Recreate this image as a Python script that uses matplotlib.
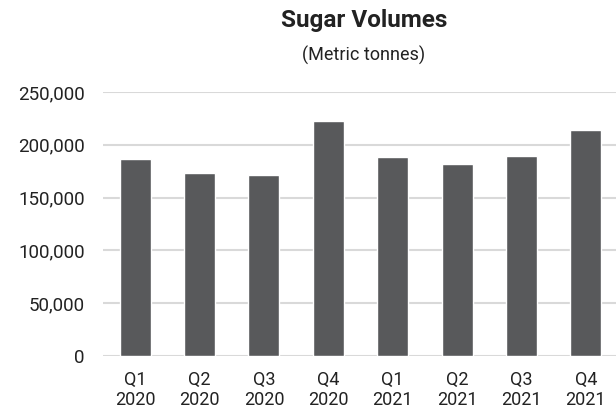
import matplotlib
matplotlib.use("Agg")
import matplotlib.pyplot as plt
import numpy as np

quarters = ["Q1", "Q2", "Q3", "Q4", "Q1", "Q2", "Q3", "Q4"]
years = ["2020", "2020", "2020", "2020", "2021", "2021", "2021", "2021"]
volumes = [187000, 173000, 171000, 223000, 188000, 182000, 189000, 214000]
yticks = [0, 50000, 100000, 150000, 200000, 250000]

plt.rcParams['font.family'] = ['Roboto', 'DejaVu Sans']

W, H = 616, 413
fig = plt.figure(figsize=(W / 100, H / 100), dpi=100)
ax = fig.add_axes([103 / W, 1 - 356 / H, 515 / W, (356 - 92) / H])

x = np.arange(len(volumes))
labels = [f"{q}\n{y}" for q, y in zip(quarters, years)]
ax.bar(x, volumes, width=0.48, color="#58595b", edgecolor="white", linewidth=1, zorder=3)
ax.set_xlim(-0.5, len(volumes) - 0.5)
ax.set_ylim(0, 250000)
ax.set_yticks(yticks)
ax.set_yticklabels([f"{v:,}" for v in yticks])
ax.set_xticks(x)
ax.set_xticklabels(labels, linespacing=1.1)
ax.yaxis.grid(True, color="#d9d9d9", linewidth=1.5, zorder=0)
ax.set_axisbelow(True)
for s in ax.spines.values():
    s.set_visible(False)
ax.tick_params(axis="both", length=0, colors="#222222")
ax.tick_params(axis="y", pad=13, labelsize=13.5)
ax.tick_params(axis="x", pad=11, labelsize=13)

fig.text(364 / W, 1 - 21 / H, "Sugar Volumes", ha="center", va="center", fontsize=17.5, fontweight="bold", color="#222222")
fig.text(364 / W, 1 - 55 / H, "(Metric tonnes)", ha="center", va="center", fontsize=13, color="#222222")

fig.savefig("out.png", dpi=100)
